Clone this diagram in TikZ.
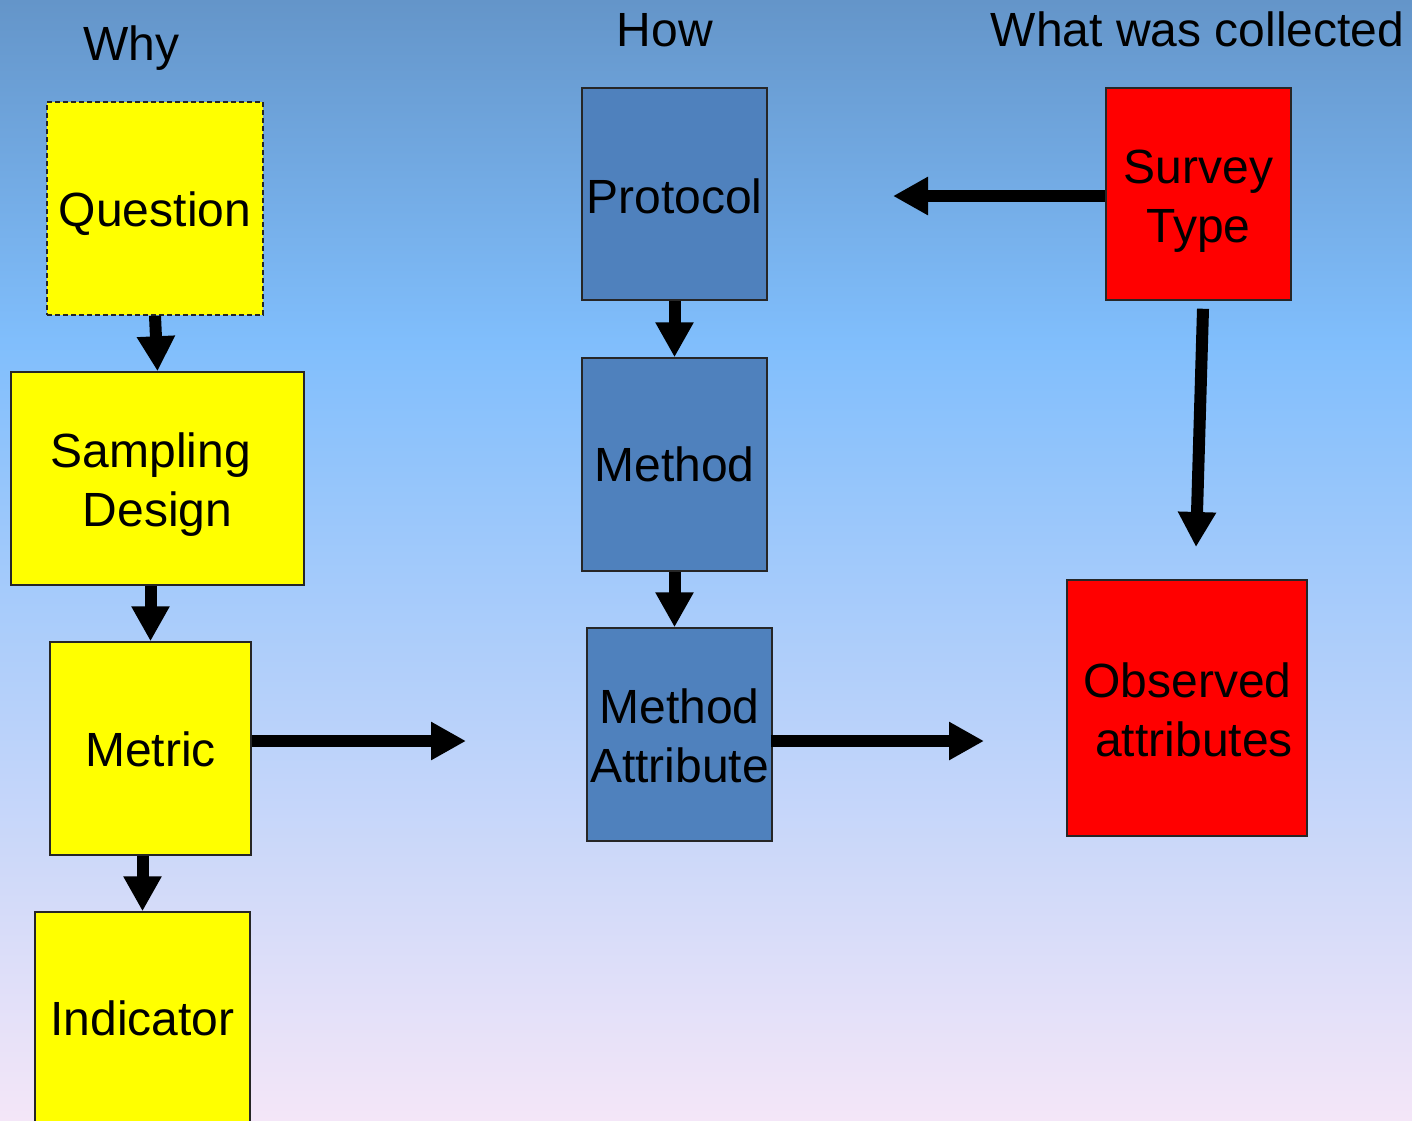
\documentclass[tikz,border=0pt]{standalone}
\usepackage{fontspec}
\setmainfont{Liberation Sans}
\usetikzlibrary{arrows.meta}

\definecolor{bgtop}{RGB}{100,149,201}
\definecolor{bgmid}{RGB}{128,190,252}
\definecolor{bgbot}{RGB}{244,230,248}
\definecolor{howblue}{RGB}{79,129,189}
\definecolor{whatred}{RGB}{255,0,0}
\definecolor{whyyellow}{RGB}{255,255,0}

% width of one word space, kept at line ends
\newcommand{\trail}{\phantom{\ }}

\begin{document}
\begin{tikzpicture}[x=1pt,y=-1pt,
  big/.style={font=\fontsize{48}{59}\selectfont},
  box/.style={draw=black!85, line width=1.5pt, inner sep=0pt},
  boxtext/.style={big, inner sep=0pt, align=center},
  whybox/.style={box, fill=whyyellow},
  howbox/.style={box, fill=howblue},
  whatbox/.style={box, fill=whatred},
  colhead/.style={big, inner sep=0pt, anchor=base},
  flow/.style={line width=12pt, -{Triangle[length=35pt,width=36pt]}},
]
\useasboundingbox (0,0) rectangle (1412,1120);

% background gradient
\shade[top color=bgtop, bottom color=bgmid] (0,0) rectangle (1412,341);
\shade[top color=bgmid, bottom color=bgbot] (0,340) rectangle (1412,1120);

% column headings
\node[colhead] (why)  at (131,60)  {Why};
\node[colhead] (how)  at (665,46)  {How};
\node[colhead] (what) at (1197.5,46) {What was collected};

% why column
\node[whybox, dash pattern=on 5pt off 3pt, minimum width=216pt, minimum height=213pt,
  label={[boxtext,yshift=-5pt]center:Question}] (q) at (155,208.5) {};
\node[whybox, minimum width=293pt, minimum height=213pt,
  label={[boxtext,yshift=-6pt]center:{Sampling\trail\\Design}}] (s) at (157.5,478.5) {};
\node[whybox, minimum width=201pt, minimum height=213pt,
  label={[boxtext,yshift=-1pt]center:Metric}] (m) at (150.5,748.5) {};
\node[whybox, minimum width=215pt, minimum height=213pt,
  label={[boxtext]center:Indicator}] (i) at (142.5,1018.5) {};

% how column
\node[howbox, minimum width=185pt, minimum height=212pt,
  label={[boxtext,yshift=-2pt]center:Protocol}] (p) at (674.5,194) {};
\node[howbox, minimum width=185pt, minimum height=213pt,
  label={[boxtext]center:Method}] (me) at (674.5,464.5) {};
\node[howbox, minimum width=185pt, minimum height=213pt,
  label={[boxtext,yshift=-1pt]center:{Method\\Attribute}}] (ma) at (679.5,734.5) {};

% what column
\node[whatbox, minimum width=185pt, minimum height=212pt,
  label={[boxtext,yshift=-7pt]center:{Survey\\Type}}] (st) at (1198.5,194) {};
\node[whatbox, minimum width=240pt, minimum height=256pt,
  label={[boxtext,xshift=7pt,yshift=-2pt]center:{Observed\trail\\attributes}}] (ob) at (1187,708) {};

% free arrow ends
\coordinate (mt) at (466,741);
\coordinate (mo) at (984,741);
\coordinate (sp) at (893,196);
\coordinate (sd) at (1196,547);

% connectors
\draw[flow] (q.south) -- (s.north);
\draw[flow] (s.south -| m.north) -- (m.north);
\draw[flow] (m.south -| i.north) -- (i.north);
\draw[flow] (p.south) -- (me.north);
\draw[flow] (me.south) -- (ma.north -| me.south);
\draw[flow] (m.east |- mt) -- (mt);
\draw[flow] ([xshift=-2pt]ma.east |- mo) -- (mo);
\draw[flow] (st.west |- sp) -- (sp);
\draw[flow] ([xshift=4.5pt,yshift=-8pt]st.south) -- (sd);
\end{tikzpicture}
\end{document}
